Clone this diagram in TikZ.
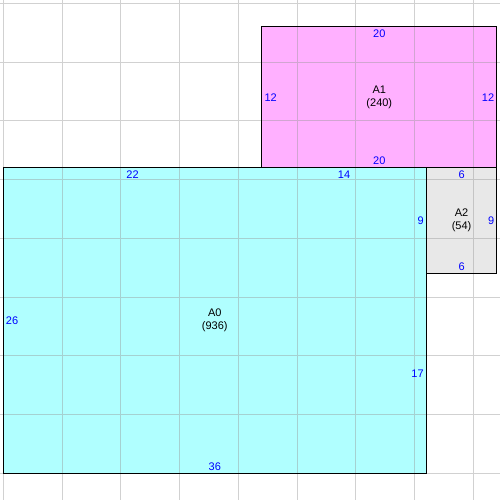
\documentclass[tikz,border=0pt]{standalone}
\usepackage{fontspec}
\setmainfont{Liberation Sans}
\definecolor{areacyan}{RGB}{176,255,255}
\definecolor{areapink}{RGB}{255,176,255}
\definecolor{areagray}{RGB}{232,232,232}

\begin{document}
\begin{tikzpicture}[x = 11.75bp, y = 11.75bp, font = \fontsize{11bp}{13bp}\selectfont,
	gridline/.style = {black!40, opacity = 0.45, line width = 0.8bp},
	border/.style = {black, line width = 1.1bp},
	side/.style = {text = blue, inner sep = 2.5bp},
	areaname/.style = {align = center, inner sep = 0pt}]
	\useasboundingbox (-0.28, -2.27) rectangle (42.27, 40.28);
	\fill[white] (-0.28, -2.27) rectangle (42.27, 40.28);
	\fill[areacyan] (0,  0) rectangle (36, 26);
	\fill[areapink] (22, 26) rectangle (42, 38);
	\fill[areagray] (36, 17) rectangle (42, 26);
	\draw[gridline, step = 5] (-0.28, -2.27) grid (42.27, 40.28);
	\draw[border] (0,  0) rectangle (36, 26);
	\draw[border] (22, 26) rectangle (42, 38);
	\draw[border] (36, 17) rectangle (42, 26);
	\node[areaname] (a0name) at (18,  13)   {A0\\(936)};
	\node[areaname] (a1name) at (32,  32)   {A1\\(240)};
	\node[areaname] (a2name) at (39,  21.5) {A2\\(54)};
	\node[side, below] (a0top)   at (11,  26)   {22};
	\node[side, below] (a0topb)  at (29,  26)   {14};
	\node[side, right] (a0left)  at (0,   13)   {26};
	\node[side, left]  (a0right) at (36,  21.5) {9};
	\node[side, left]  (a0rightb) at (36, 8.5)  {17};
	\node[side, above] (a0bottom) at (18, 0)    {36};
	\node[side, below] (a1top)   at (32,  38)   {20};
	\node[side, above] (a1bottom) at (32, 26)   {20};
	\node[side, right] (a1left)  at (22,  32)   {12};
	\node[side, left]  (a1right) at (42,  32)   {12};
	\node[side, below] (a2top)   at (39,  26)   {6};
	\node[side, above] (a2bottom) at (39, 17)   {6};
	\node[side, left]  (a2right) at (42,  21.5) {9};
\end{tikzpicture}
\end{document}
